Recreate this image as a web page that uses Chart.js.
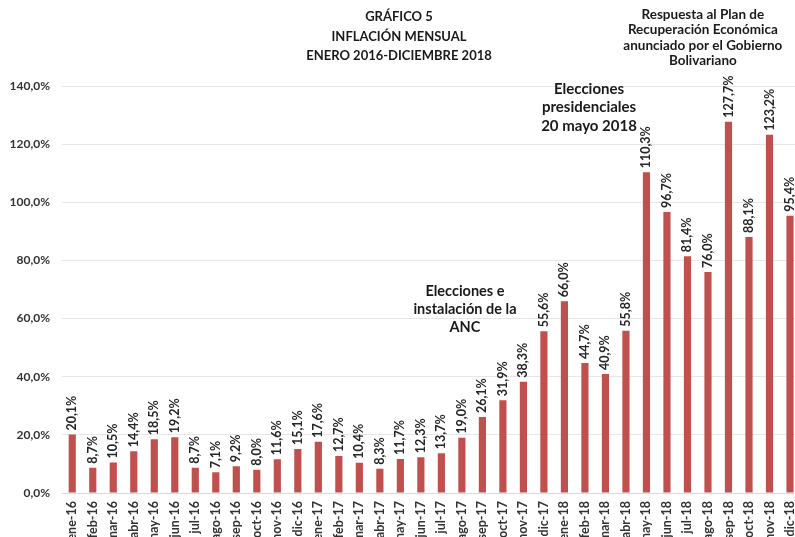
<!DOCTYPE html>
<html>
<head>
<meta charset="utf-8">
<script src="https://cdn.jsdelivr.net/npm/chart.js@4"></script>
<style>
  html, body { margin: 0; padding: 0; background: #fff; overflow: hidden; }
  #wrap { position: absolute; left: 0; top: 0; }
</style>
</head>
<body>
<div id="wrap"><canvas id="inflacion" width="813" height="553"></canvas></div>
<script>
// Inflación mensual enero 2016 - diciembre 2018
const months = ['ene', 'feb', 'mar', 'abr', 'may', 'jun', 'jul', 'ago', 'sep', 'oct', 'nov', 'dic'];
const years = ['16', '17', '18'];
const labels = years.flatMap((y) => months.map((m) => `${m}-${y}`));

const inflacion2016 = [20.1, 8.7, 10.5, 14.4, 18.5, 19.2, 8.7, 7.1, 9.2, 8.0, 11.6, 15.1];
const inflacion2017 = [17.6, 12.7, 10.4, 8.3, 11.7, 12.3, 13.7, 19.0, 26.1, 31.9, 38.3, 55.6];
const inflacion2018 = [66.0, 44.7, 40.9, 55.8, 110.3, 96.7, 81.4, 76.0, 127.7, 88.1, 123.2, 95.4];
const values = [...inflacion2016, ...inflacion2017, ...inflacion2018];

const titleLines = ['GRÁFICO 5', 'INFLACIÓN MENSUAL', 'ENERO 2016-DICIEMBRE 2018'];

// notas: posición en índice de categoría y valor del eje
const notes = [
  { lines: ['Elecciones e', 'instalación de la', 'ANC'], at: 19.15, value: 69.5, size: 14.5, gap: 18 },
  { lines: ['Elecciones', 'presidenciales', '20 mayo 2018'], at: 25.2, value: 139, size: 15, gap: 18.5 },
  { lines: ['Respuesta al Plan de', 'Recuperación Económica', 'anunciado por el Gobierno', 'Bolivariano'], at: 30.75, value: 164.5, size: 13.5, gap: 15.2 }
];

const FONT = 'Lato, "Open Sans", sans-serif';
const pct = (v) => v.toFixed(1).replace('.', ',') + '%';

const valueLabels = {
  id: 'valueLabels',
  afterDatasetsDraw(chart) {
    const { ctx } = chart;
    const meta = chart.getDatasetMeta(0);
    ctx.save();
    ctx.font = `bold 12.5px ${FONT}`;
    ctx.fillStyle = '#262626';
    ctx.textAlign = 'left';
    ctx.textBaseline = 'middle';
    meta.data.forEach((bar, i) => {
      ctx.save();
      ctx.translate(bar.x, bar.y - 4);
      ctx.rotate(-Math.PI / 2);
      ctx.fillText(pct(values[i]), 0, 0);
      ctx.restore();
    });
    ctx.restore();
  }
};

const textNotes = {
  id: 'textNotes',
  afterDraw(chart) {
    const { ctx, scales } = chart;
    ctx.save();
    ctx.fillStyle = '#1a1a1a';
    ctx.textAlign = 'center';
    ctx.textBaseline = 'middle';
    ctx.font = `bold 13px ${FONT}`;
    titleLines.forEach((t, i) => ctx.fillText(t, 399, 17 + i * 19.5));
    notes.forEach((n) => {
      const x = scales.x.getPixelForValue(n.at);
      const y0 = scales.y.getPixelForValue(n.value);
      ctx.font = `bold ${n.size}px ${FONT}`;
      n.lines.forEach((t, i) => ctx.fillText(t, x, y0 + i * n.gap));
    });
    ctx.restore();
  }
};

new Chart(document.getElementById('inflacion'), {
  type: 'bar',
  data: {
    labels,
    datasets: [{ data: values, backgroundColor: '#c0504d', barPercentage: 0.35, categoryPercentage: 1 }]
  },
  options: {
    responsive: false,
    animation: false,
    layout: { padding: { top: 86, right: 0, left: 0, bottom: 0 } },
    plugins: { legend: { display: false }, tooltip: { enabled: false } },
    scales: {
      x: {
        grid: { display: false, drawTicks: false },
        border: { color: '#d9d9d9' },
        ticks: {
          autoSkip: false, maxRotation: 90, minRotation: 90, padding: 8,
          color: '#333', font: { family: FONT, weight: 'bold', size: 12.5 }
        },
        afterFit(scale) { scale.height = 60; }
      },
      y: {
        min: 0, max: 140,
        grid: { color: '#e6e6e6', drawTicks: false },
        border: { display: false },
        ticks: {
          stepSize: 20, padding: 12, callback: (v) => pct(v),
          color: '#333', font: { family: FONT, weight: 'bold', size: 12 }
        },
        afterFit(scale) { scale.width = 62; }
      }
    }
  },
  plugins: [valueLabels, textNotes]
});
</script>
</body>
</html>
